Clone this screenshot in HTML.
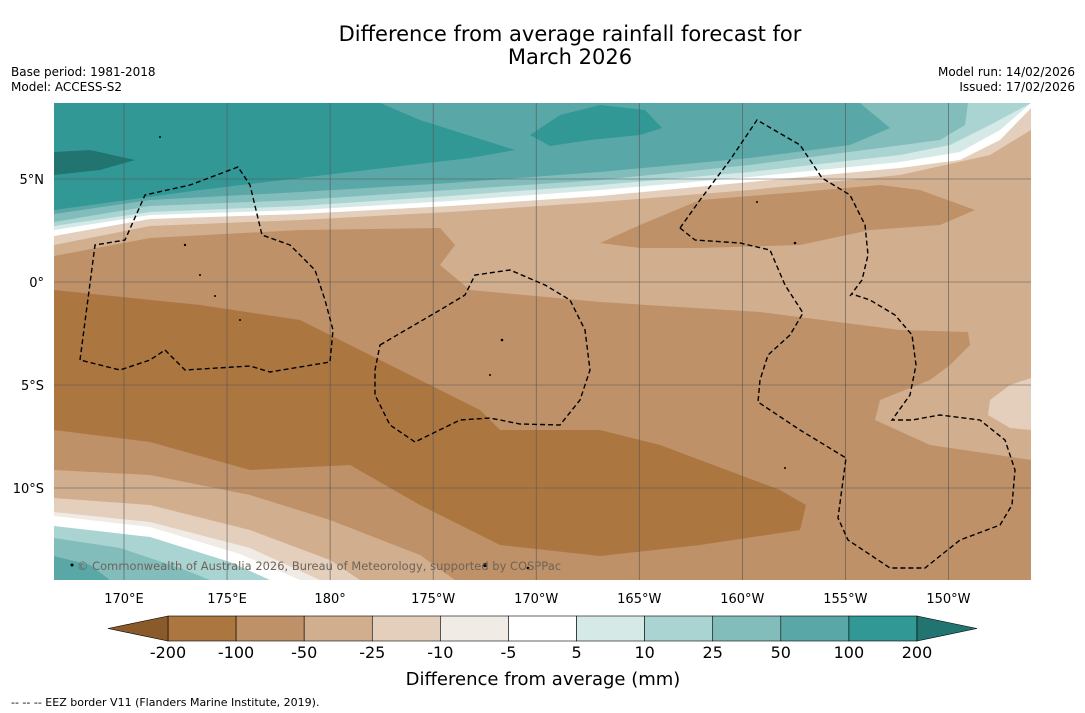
<!DOCTYPE html>
<html><head><meta charset="utf-8">
<style>
body{margin:0;background:#fff;font-family:"DejaVu Sans","Liberation Sans",sans-serif;}
svg{display:block}
text{font-family:"DejaVu Sans","Liberation Sans",sans-serif}
</style></head>
<body>
<svg id="chart" width="1085" height="713" viewBox="0 0 1085 713">
<rect width="1085" height="713" fill="#fff"/>
<text x="570" y="41" font-size="21" text-anchor="middle">Difference from average rainfall forecast for</text>
<text x="570" y="64" font-size="21" text-anchor="middle">March 2026</text>
<text x="11" y="76" font-size="12">Base period: 1981-2018</text>
<text x="11" y="91" font-size="12">Model: ACCESS-S2</text>
<text x="1075" y="76" font-size="12" text-anchor="end">Model run: 14/02/2026</text>
<text x="1075" y="91" font-size="12" text-anchor="end">Issued: 17/02/2026</text>
<defs><clipPath id="mc"><rect x="54" y="103" width="977" height="477"/></clipPath></defs>
<g clip-path="url(#mc)">
<rect x="54" y="103" width="977" height="477" fill="#d1ae8d"/>
<path fill="#be9168" d="M54,256 L150,238 L300,230 L440,228 L455,245 L440,265 L470,290 L600,302 L760,312 L900,330 L968,332 L970,345 L950,365 L930,380 L880,400 L875,420 L930,445 L1031,460 L1031,580 L455,580 L420,555 L330,520 L250,495 L150,475 L54,470 Z"/>
<path fill="#be9168" d="M600,243 L640,225 L700,200 L800,192 L880,185 L920,190 L975,210 L940,225 L870,230 L800,245 L700,248 L640,248 Z"/>
<path fill="#e3cfbb" d="M1031,378 L1010,385 L990,400 L988,415 L1010,428 L1031,430 Z"/>
<path fill="#ac7640" d="M54,290 L200,305 L300,320 L350,345 L430,385 L480,410 L500,430 L600,430 L660,445 L780,490 L806,505 L800,530 L700,545 L600,556 L500,545 L420,505 L350,465 L250,470 L150,442 L54,430 Z"/>
<path fill="#e3cfbb" d="M54,498 L150,505 L250,530 L330,560 L360,580 L54,580 Z"/>
<path fill="#f1ebe6" d="M54,512 L150,522 L250,548 L320,580 L54,580 Z"/>
<path fill="#ffffff" d="M54,516 L150,527 L240,554 L300,580 L54,580 Z"/>
<path fill="#a9d4d2" d="M54,526 L150,537 L230,562 L270,580 L54,580 Z"/>
<path fill="#82bdbc" d="M54,538 L120,548 L180,568 L210,580 L54,580 Z"/>
<path fill="#59a8a7" d="M54,556 L90,565 L110,580 L54,580 Z"/>
<path fill="#e3cfbb" d="M54,103 L1031,103 L1031,130 L990,155 L900,175 L750,190 L600,202 L450,212 L300,220 L150,226 L54,245 Z"/>
<path fill="#ffffff" d="M54,103 L1031,103 L1031,108 L1000,140 L960,160 L900,168 L750,182 L600,196 L450,206 L300,214 L150,219 L54,236 Z"/>
<path fill="#d5e9e7" d="M54,103 L1031,103 L1000,130 L960,152 L900,162 L750,177 L600,190 L450,201 L300,210 L150,215 L54,230 Z"/>
<path fill="#a9d4d2" d="M54,103 L1031,103 L990,125 L950,145 L900,155 L750,172 L600,185 L450,196 L300,206 L150,212 L54,226 Z"/>
<path fill="#82bdbc" d="M54,103 L968,103 L965,125 L940,140 L880,148 L750,165 L600,180 L450,190 L300,200 L150,206 L54,222 Z"/>
<path fill="#59a8a7" d="M54,103 L860,103 L890,128 L850,145 L750,158 L600,172 L450,183 L300,192 L150,200 L54,214 Z"/>
<path fill="#319896" d="M54,103 L380,103 L420,120 L515,150 L470,158 L350,172 L200,190 L54,210 Z"/>
<path fill="#319896" d="M530,135 L560,115 L600,105 L645,110 L662,128 L640,135 L590,140 L550,146 Z"/>
<path fill="#217470" d="M54,152 L90,150 L135,160 L100,170 L54,175 Z"/>
<g stroke="#555" stroke-width="0.6" id="grid"></g>
<g fill="none" stroke="#000" stroke-width="1.4" stroke-dasharray="5,3">
<path d="M80,360 L95,245 L125,240 L145,195 L190,185 L238,167 L250,185 L262,235 L290,245 L315,270 L325,300 L333,330 L330,362 L270,372 L250,366 L185,370 L165,350 L150,360 L120,370 L80,360"/>
<path d="M380,345 L440,310 L465,295 L475,275 L510,270 L545,285 L570,300 L585,330 L590,370 L580,400 L560,425 L520,424 L490,418 L460,420 L415,442 L390,425 L375,395 L375,370 Z"/>
<path d="M680,228 L700,200 L730,160 L757,120 L800,145 L822,178 L850,195 L865,225 L868,255 L862,280 L850,296"/>
<path d="M680,228 L695,240 L740,243 L770,250 L785,285 L803,313 L790,335 L768,355 L760,380 L758,402 L800,430 L846,458 L838,518 L848,540 L890,568 L925,568 L960,540 L1000,525 L1012,505 L1015,470 L1005,440 L980,420 L940,415 L912,420 L892,420 L910,395 L916,365 L912,335 L895,315 L870,300 L852,294"/>
</g>
<g fill="#000">
<circle cx="185" cy="245" r="1.2"/><circle cx="200" cy="275" r="1"/><circle cx="215" cy="296" r="1"/><circle cx="240" cy="320" r="1"/><circle cx="502" cy="340" r="1.3"/><circle cx="490" cy="375" r="1"/><circle cx="485" cy="565" r="2"/><circle cx="528" cy="568" r="1.3"/><circle cx="160" cy="137" r="1"/><circle cx="785" cy="468" r="1"/><circle cx="795" cy="243" r="1.3"/><circle cx="757" cy="202" r="1"/><circle cx="72" cy="565" r="1.5"/>
</g>
<text x="77" y="570" font-size="11.4" fill="#6e6358" textLength="484">© Commonwealth of Australia 2026, Bureau of Meteorology, supported by COSPPac</text>
</g>
<g id="axes" font-size="13"></g>
<g id="cbar"></g>
<text x="543" y="685" font-size="18" text-anchor="middle">Difference from average (mm)</text>
<text x="11" y="706" font-size="11">--  --  -- EEZ border V11 (Flanders Marine Institute, 2019).</text>
</svg>
<script>
const lonLabels=["170°E","175°E","180°","175°W","170°W","165°W","160°W","155°W","150°W"];
const lonValues=[170,175,180,185,190,195,200,205,210];
const latLabels=["5°N","0°","5°S","10°S"];
const latValues=[5,0,-5,-10];
const cbarTicks=["-200","-100","-50","-25","-10","-5","5","10","25","50","100","200"];
const cbarColors=["#ac7640","#be9168","#d1ae8d","#e3cfbb","#f1ebe6","#ffffff","#d5e9e7","#a9d4d2","#82bdbc","#59a8a7","#319896"];
const NS="http://www.w3.org/2000/svg";
const xLon=v=>124+(v-170)*20.61;
const yLat=v=>282-v*20.6;
function mk(tag,attrs,parent){const e=document.createElementNS(NS,tag);for(const k in attrs)e.setAttribute(k,attrs[k]);parent.appendChild(e);return e;}
const grid=document.getElementById('grid'),axes=document.getElementById('axes'),cb=document.getElementById('cbar');
lonValues.forEach((v,i)=>{
 const l=mk('line',{x1:xLon(v),x2:xLon(v),y1:103,y2:580},grid);
 
 
 const t=mk('text',{x:xLon(v),y:603,'text-anchor':'middle'},axes);t.textContent=lonLabels[i];
 
 
});
latValues.forEach((v,i)=>{
 const l=mk('line',{x1:54,x2:1031,y1:yLat(v),y2:yLat(v)},grid);
 
 
 const t=mk('text',{x:44,y:yLat(v)+5,'text-anchor':'end'},axes);t.textContent=latLabels[i];
 
 
});
const x0=168,x1=917,y0=616,h=25,w=(x1-x0)/cbarColors.length;
cbarColors.forEach((c,i)=>{
 const r=mk('rect',{x:x0+i*w,y:y0,width:w,height:h,fill:c,stroke:'#000','stroke-width':0.6},cb);
 
 
});
const la=mk('polygon',{points:`${x0},${y0} 108,${y0+h/2} ${x0},${y0+h}`,fill:'#8a5a2b',stroke:'#000','stroke-width':0.6},cb);


const ra=mk('polygon',{points:`${x1},${y0} 977,${y0+h/2} ${x1},${y0+h}`,fill:'#217470',stroke:'#000','stroke-width':0.6},cb);


cbarTicks.forEach((s,i)=>{
 const t=mk('text',{x:x0+i*w,y:658,'font-size':16,'text-anchor':'middle'},cb);t.textContent=s;
 
 
});
</script>
</body></html>
